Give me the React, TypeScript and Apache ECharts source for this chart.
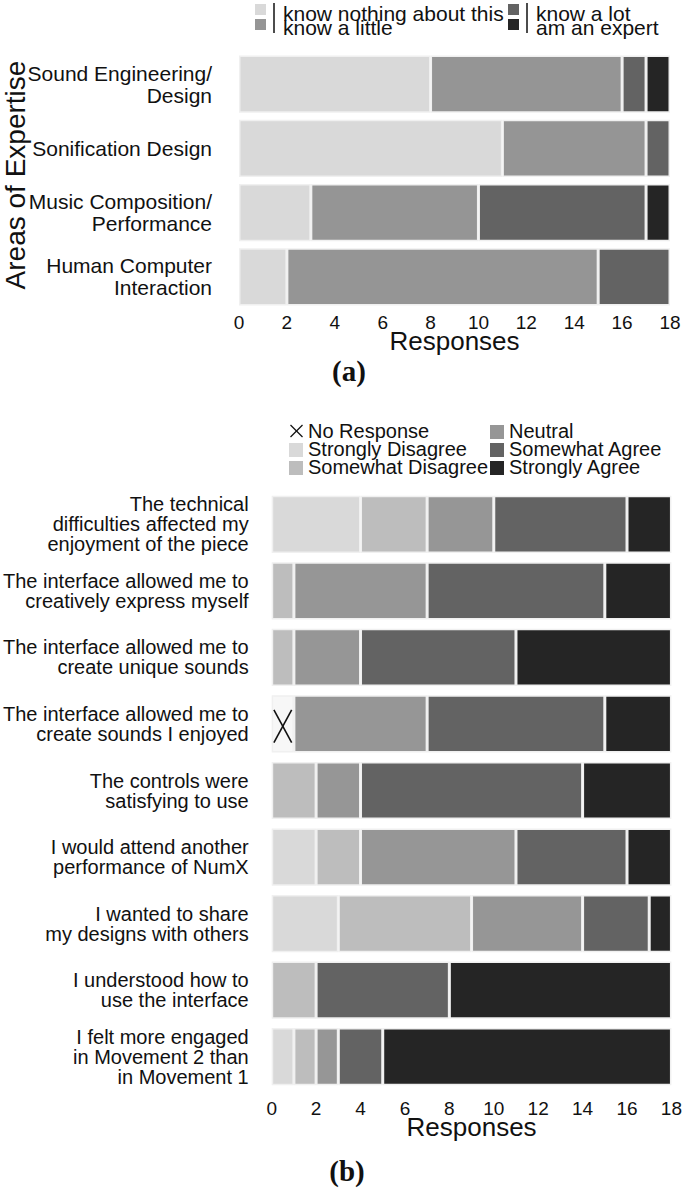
import React, { useEffect, useRef } from "react";
import * as echarts from "echarts";

const FONT = "'Liberation Sans', Arial, sans-serif";
const SERIF = "'Liberation Serif', 'Times New Roman', serif";

// ---------- chart (a) ----------
const expertiseAreas = [
  "Sound Engineering/\nDesign",
  "Sonification Design",
  "Music Composition/\nPerformance",
  "Human Computer\nInteraction",
];
const knowNothing = [8, 11, 3, 2];
const knowLittle = [8, 6, 7, 13];
const knowLot = [1, 1, 7, 3];
const expert = [1, 0, 1, 0];
const expertiseLevels = ["know nothing about this", "know a little", "know a lot", "am an expert"];
const expertiseColors = ["#d9d9d9", "#959595", "#636363", "#252525"];

// ---------- chart (b) ----------
const statements = [
  "The technical\ndifficulties affected my\nenjoyment of the piece",
  "The interface allowed me to\ncreatively express myself",
  "The interface allowed me to\ncreate unique sounds",
  "The interface allowed me to\ncreate sounds I enjoyed",
  "The controls were\nsatisfying to use",
  "I would attend another\nperformance of NumX",
  "I wanted to share\nmy designs with others",
  "I understood how to\nuse the interface",
  "I felt more engaged\nin Movement 2 than\nin Movement 1",
];
const noResponse = [0, 0, 0, 1, 0, 0, 0, 0, 0];
const stronglyDisagree = [4, 0, 0, 0, 0, 2, 3, 0, 1];
const somewhatDisagree = [3, 1, 1, 0, 2, 2, 6, 2, 1];
const neutral = [3, 6, 3, 6, 2, 7, 5, 0, 1];
const somewhatAgree = [6, 8, 7, 8, 10, 5, 3, 6, 2];
const stronglyAgree = [2, 3, 7, 3, 4, 2, 1, 10, 13];
const likertLevels = [
  "No Response",
  "Strongly Disagree",
  "Somewhat Disagree",
  "Neutral",
  "Somewhat Agree",
  "Strongly Agree",
];
const likertColors = ["#f7f7f7", "#d9d9d9", "#bdbdbd", "#969696", "#636363", "#252525"];

const responseTicks = { min: 0, max: 18, interval: 2 };

const nz = (arr: number[]) => arr.map((v) => (v === 0 ? "-" : v));

export default function App() {
  const ref = useRef<HTMLDivElement>(null);

  useEffect(() => {
    document.body.style.margin = "0";
    if (!ref.current) return;
    const chart = echarts.init(ref.current, undefined, { renderer: "svg" });

    const barStyle = (color: string) => ({
      color,
      borderColor: "#f0f0f0",
      borderWidth: 1.5,
    });

    const seriesA = [knowNothing, knowLittle, knowLot, expert].map((d, i) => ({
      name: expertiseLevels[i],
      type: "bar",
      stack: "a",
      xAxisIndex: 0,
      yAxisIndex: 0,
      barCategoryGap: "11%",
      data: nz(d),
      itemStyle: barStyle(expertiseColors[i]),
      silent: true,
    }));

    const seriesB = [
      noResponse,
      stronglyDisagree,
      somewhatDisagree,
      neutral,
      somewhatAgree,
      stronglyAgree,
    ].map((d, i) => ({
      name: likertLevels[i],
      type: "bar",
      stack: "b",
      xAxisIndex: 1,
      yAxisIndex: 1,
      barCategoryGap: "14%",
      data: nz(d),
      itemStyle: barStyle(likertColors[i]),
      silent: true,
    }));

    const xMarks = {
      type: "custom",
      name: "No Response mark",
      coordinateSystem: "cartesian2d",
      xAxisIndex: 1,
      yAxisIndex: 1,
      z: 10,
      silent: true,
      clip: false,
      encode: { x: 0, y: 1 },
      data: noResponse.map((v, i) => [v, i]).filter((d) => d[0] > 0),
      renderItem: (params: any, api: any) => {
        const v = api.value(0);
        const c = api.value(1);
        const p0 = api.coord([0, c]);
        const p1 = api.coord([v, c]);
        const h = api.size([0, 1])[1];
        const w = p1[0] - p0[0];
        const xa = p0[0] + w * 0.1;
        const xb = p1[0] - w * 0.1;
        const yt = p0[1] - h * 0.21;
        const yb = p0[1] + h * 0.28;
        return {
          type: "group",
          children: [
            { type: "line", z2: 10, shape: { x1: xa, y1: yt, x2: xb, y2: yb }, style: { stroke: "#111", lineWidth: 1.6 } },
            { type: "line", z2: 10, shape: { x1: xb, y1: yt, x2: xa, y2: yb }, style: { stroke: "#111", lineWidth: 1.6 } },
          ],
        };
      },
    };

    const axisX = (gridIndex: number, margin: number, nameGap: number) => ({
      type: "value",
      gridIndex,
      ...responseTicks,
      axisLine: { show: false },
      axisTick: { show: false },
      splitLine: { show: false },
      axisLabel: { fontSize: 19, color: "#111", margin, fontFamily: FONT },
      name: "Responses",
      nameLocation: "middle",
      nameGap,
      nameMoveOverlap: false,
      nameTextStyle: { fontSize: 26, color: "#111", fontFamily: FONT },
    });

    const axisY = (gridIndex: number, data: string[], fontSize: number, lineHeight: number, margin: number) => ({
      type: "category",
      gridIndex,
      inverse: true,
      data,
      axisLine: { show: false },
      axisTick: { show: false },
      splitLine: { show: false },
      axisLabel: { fontSize, lineHeight, margin, color: "#111", fontFamily: FONT, align: "right" },
    });

    const t = (text: string, x: number, y: number, fontSize = 19, extra: any = {}) => ({
      type: "text",
      x,
      y,
      silent: true,
      style: {
        text,
        fontSize,
        fontFamily: FONT,
        fill: "#111",
        align: "left",
        verticalAlign: "middle",
        ...extra,
      },
    });
    const sq = (x: number, y: number, s: number, fill: string) => ({
      type: "rect",
      silent: true,
      shape: { x, y, width: s, height: s },
      style: { fill },
    });
    const ln = (x1: number, y1: number, x2: number, y2: number, w = 1.5) => ({
      type: "line",
      silent: true,
      shape: { x1, y1, x2, y2 },
      style: { stroke: "#111", lineWidth: w },
    });

    const legendA = [
      sq(255, 4, 11, expertiseColors[0]),
      sq(255, 19, 11, expertiseColors[1]),
      ln(274, 3, 274, 33),
      t(expertiseLevels[0], 283, 13, 21),
      t(expertiseLevels[1], 283, 27, 21),
      sq(508, 4, 11, expertiseColors[2]),
      sq(508, 19, 11, expertiseColors[3]),
      ln(527, 3, 527, 33),
      t(expertiseLevels[2], 536, 13, 21),
      t(expertiseLevels[3], 536, 27, 21),
    ];

    const rowsB = [431, 449, 467];
    const legendB = [
      ln(290.5, 425, 302.5, 437, 1.3),
      ln(302.5, 425, 290.5, 437, 1.3),
      t(likertLevels[0], 308, rowsB[0], 20),
      sq(289, rowsB[1] - 6, 14, likertColors[1]),
      t(likertLevels[1], 308, rowsB[1], 20),
      sq(289, rowsB[2] - 6, 14, likertColors[2]),
      t(likertLevels[2], 308, rowsB[2], 20),
      sq(490, rowsB[0] - 6, 14, likertColors[3]),
      t(likertLevels[3], 509, rowsB[0], 20),
      sq(490, rowsB[1] - 6, 14, likertColors[4]),
      t(likertLevels[4], 509, rowsB[1], 20),
      sq(490, rowsB[2] - 6, 14, likertColors[5]),
      t(likertLevels[5], 509, rowsB[2], 20),
    ];

    const extras = [
      {
        type: "text",
        x: 15,
        y: 175,
        rotation: Math.PI / 2,
        silent: true,
        style: {
          text: "Areas of Expertise",
          fontSize: 28,
          fontFamily: FONT,
          fill: "#111",
          align: "center",
          verticalAlign: "middle",
        },
      },
      t("(a)", 349, 371, 29, { fontFamily: SERIF, fontWeight: "bold", align: "center" }),
      t("(b)", 347, 1171, 29, { fontFamily: SERIF, fontWeight: "bold", align: "center" }),
    ];

    chart.setOption({
      animation: false,
      backgroundColor: "#ffffff",
      textStyle: { fontFamily: FONT },
      grid: [
        { left: 239, right: 15, top: 52, height: 257 },
        { left: 271, right: 12, top: 491, height: 599 },
      ],
      xAxis: [axisX(0, 4, 19), axisX(1, 9, 24)],
      yAxis: [axisY(0, expertiseAreas, 21, 22, 27), axisY(1, statements, 20, 20, 23)],
      series: [...seriesA, ...seriesB, xMarks],
      graphic: [...legendA, ...legendB, ...extras],
    });

    return () => chart.dispose();
  }, []);

  return (
    <div
      ref={ref}
      style={{ position: "absolute", left: 0, top: 0, width: 685, height: 1189 }}
    />
  );
}
